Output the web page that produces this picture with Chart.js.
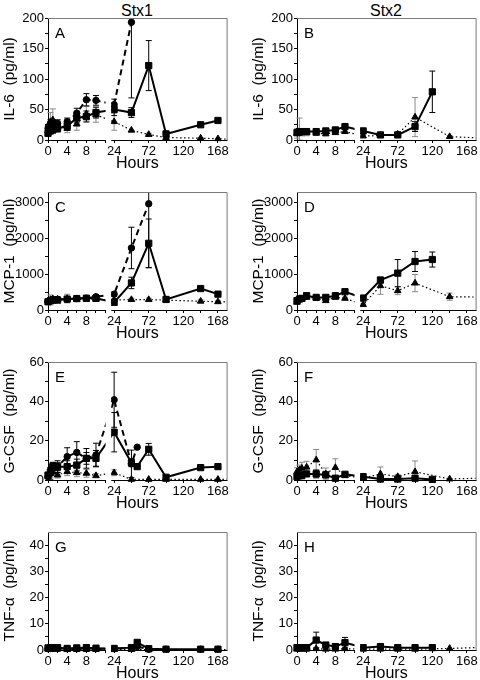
<!DOCTYPE html>
<html><head><meta charset="utf-8">
<script src="https://cdn.jsdelivr.net/npm/chart.js@4/dist/chart.umd.min.js"></script>
<style>
html,body{margin:0;padding:0;background:#fff;width:480px;height:680px;overflow:hidden;position:relative;font-family:"Liberation Sans",Arial,sans-serif;}
canvas{position:absolute;}
.ct{position:absolute;top:3px;width:100px;text-align:center;font-size:16px;line-height:16px;color:#000;}
</style></head><body>
<div class="ct" style="left:87px">Stx1</div>
<div class="ct" style="left:336px">Stx2</div>
<script>
// ---- time points (hours) ----
const hours = [0, 0.5, 1, 2, 4, 6, 8, 10, 24, 48, 56, 72, 96, 120, 144, 168, 192];
const xTicks = [0, 2, 4, 6, 8, 10, 12, 24, 48, 72, 96, 120, 144, 168];
const xLabels = [0, 4, 8, 24, 72, 120, 168];

// ---- y ticks ----
const il6Ticks = [0, 25, 50, 75, 100, 125, 150, 175, 200];
const il6Labels = [0, 50, 100, 150, 200];
const mcpTicks = [0, 500, 1000, 1500, 2000, 2500, 3000];
const mcpLabels = [0, 1000, 2000, 3000];
const gcsfTicks = [0, 10, 20, 30, 40, 50, 60];
const gcsfLabels = [0, 20, 40, 60];
const tnfTicks = [0, 5, 10, 15, 20, 25, 30, 35, 40];
const tnfLabels = [0, 10, 20, 30, 40];

// ---- Panel A (Stx1, IL-6) ----
const aSquare      = [11, 15, 16.5, 19, 23, 36, 38.5, 45, 50, 45, null, 122, 10, null, 25, 32, null];
const aSquareErr   = [4, 5, 5, 6, 7, 8, 9, 9, 10, 8, null, 41, 3, null, 3, 3, null];
const aCircle      = [19, 27, 27, 27, 30, 44, 66, 65, 58, 193, null, null, null, null, null, null, null];
const aCircleErr   = [5, 6, 6, 6, 6, 8, 10, 8, 9, 124, null, null, null, null, null, null, null];
const aTriangle    = [15, 30, 33, 25, 19, 26, 43, 41, 30, 16, null, 9, 4, null, 3, 2, 1];
const aTriangleErr = [8, 15, 18, 8, 7, 10, 12, 12, 14, null, null, 2, 1, null, 1, 1, null];
// ---- Panel B (Stx2, IL-6) ----
const bSquare      = [12, 13.8, 13.8, 13.8, 13.8, 14.9, 16.5, 22, 14.9, 8.3, null, 8.3, 22, 79, null, null, null];
const bSquareErr   = [4, 5, 4, 4, 3, 3, 3, 4, 4, 2, null, 2, 8, 34, null, null, null];
const bTriangle    = [11, 11, 12.7, 12, 11, 10, 12, 13.8, 6.6, 7.2, null, 9.4, 37.5, null, 5.5, null, 3];
const bTriangleErr = [8, 25, 6, 5, 3, 3, 3, 3, 3, 2, null, 3, 32, null, 2, null, null];
// ---- Panel C (Stx1, MCP-1) ----
const cSquare      = [230, 258, 277, 277, 305, 320, 330, 330, 212, 757, null, 1865, 295, null, 600, 443, null];
const cSquareErr   = [30, 40, 40, 40, 40, 30, 30, 30, 30, 160, null, 680, 30, null, 40, 40, null];
const cCircle      = [240, 270, 290, 300, 300, 320, 330, 370, 443, 1735, null, 2972, null, null, null, null, null];
const cCircleErr   = [40, 60, 60, 60, 60, 40, 40, 40, 60, 580, null, 1790, null, null, null, null, null];
const cTriangle    = [250, 280, 310, 300, 320, 290, 300, 300, 280, 290, null, 290, 275, null, 245, 230, 225];
const cTriangleErr = [40, 140, 60, 50, 120, 40, 40, 40, 40, 40, null, 40, 30, null, 40, 30, null];
// ---- Panel D (Stx2, MCP-1) ----
const dSquare      = [260, 307, 325, 400, 353, 353, 400, 511, 334, 836, null, 1031, 1356, 1412, null, null, null];
const dSquareErr   = [30, 40, 40, 60, 50, 50, 50, 40, 30, 80, null, 380, 280, 210, null, null, null];
const dTriangle    = [214, 290, 300, 353, 334, 260, 353, 325, 149, 678, null, 539, 752, null, 372, null, 360];
const dTriangleErr = [30, 40, 40, 40, 40, 40, 40, 30, 20, 240, null, 110, 240, null, 100, null, null];
// ---- Panel E (Stx1, G-CSF) ----
const eSquare      = [2.5, 4.2, 6.8, 6.8, 6.8, 7.6, 11, 11, 24.3, 8.8, 6.8, 15.6, 1.4, null, 6.3, 6.8, null];
const eSquareErr   = [1, 2, 2, 2, 3, 3, 3, 4, 10, 2, 0.5, 3, 0.5, null, 0.5, 0.5, null];
const eCircle      = [1.7, 3.4, 6, 6.8, 11.9, 14, 11, 12.7, 40.8, 8.2, 16.7, null, null, null, null, null, null];
const eCircleErr   = [1, 3, 3, 3, 4.5, 5.5, 5, 6, 14, 7, null, null, null, null, null, null, null];
const eTriangle    = [1.7, 3.4, 4.2, 2.5, 4.2, 3.7, 3.4, 2.2, 3.7, 0.3, null, 0.3, 0.3, null, 0.3, 0.3, 0.3];
const eTriangleErr = [1, 2, 2, 1.5, 2, 2, 2, 1, 1.5, null, null, null, null, null, null, null, null];
// ---- Panel F (Stx2, G-CSF) ----
const fSquare      = [1.7, 2.2, 2.2, 3.1, 3.1, 2.6, 0.9, 2.9, 1.7, 0.5, null, 0.5, 0.9, 0.3, null, null, null];
const fSquareErr   = [1, 1, 1, 1, 2, 1.5, 0.5, 1, 0.8, 0.3, null, 0.3, 0.5, 0.2, null, null, null];
const fTriangle    = [4.2, 5.1, 6, 6.5, 10.2, 3.1, 6.3, 2.2, 0.9, 3.1, null, 1.7, 4.2, null, 0.5, null, 1];
const fTriangleErr = [2, 2.5, 3, 3, 5.3, 3, 4.5, 1, 0.5, 3.5, null, 1, 5.5, null, 0.3, null, null];
// ---- Panel G (Stx1, TNF-a) ----
const gSquare      = [0.8, 0.9, 0.9, 0.9, 0.6, 0.8, 0.9, 0.7, 0.6, 0.9, 2.9, 0.5, 0.3, null, 0.3, 0.3, null];
const gSquareErr   = [0.3, 0.3, 0.3, 0.3, 0.3, 0.3, 0.3, 0.3, 0.3, 0.3, 0.5, 0.2, null, null, null, null, null];
const gCircle      = [0.5, 0.6, 0.6, 0.6, 0.5, 0.5, 0.6, 0.5, 0.5, 0.8, 1.3, 0.3, null, null, null, null, null];
const gCircleErr   = [0.2, 0.2, 0.2, 0.2, 0.2, 0.2, 0.2, 0.2, 0.2, 0.2, null, null, null, null, null, null, null];
const gTriangle    = [0.3, 0.3, 0.3, 0.3, 0.2, 0.2, 0.2, 0.2, 0.2, 0.2, null, 0.2, 0.2, null, 0.2, 0.2, 0.2];
const gTriangleErr = [null, null, null, null, null, null, null, null, null, null, null, null, null, null, null, null, null];
// ---- Panel H (Stx2, TNF-a) ----
const hSquare      = [0.9, 0.9, 0.9, 0.9, 3.8, 1.9, 1.3, 2.8, 0.9, 1.3, null, 0.9, 0.9, 0.9, null, null, null];
const hSquareErr   = [0.3, 0.3, 0.3, 0.3, 3, 0.8, 0.5, 2, 0.3, 0.4, null, 0.3, 0.3, 0.3, null, null, null];
const hTriangle    = [0.3, 0.3, 0.3, 0.3, 0.5, 0.3, 0.3, 0.5, 0.3, 0.3, null, 0.3, 0.3, null, 0.6, null, 1];
const hTriangleErr = [null, null, null, null, 0.5, null, null, 0.5, null, null, null, null, null, null, null, null, null];

// ---- broken x axis layout (fractions of plot width) ----
const BREAK = {leftMax: 12, rightMin: 20, leftFrac: 0.3223, gapFrac: 0.0318};
const FONT = '"Liberation Sans", Arial, sans-serif';

const LinearScale = Chart.registry.getScale('linear');
class BrokenScale extends LinearScale {
  getPixelForValue(value) {
    if (value === null || value === undefined || isNaN(value)) return NaN;
    const L = this.left, W = this.width, b = BREAK;
    const rf = 1 - b.leftFrac - b.gapFrac;
    if (value <= b.leftMax) return L + (value - this.min) / (b.leftMax - this.min) * b.leftFrac * W;
    if (value >= b.rightMin) return L + (b.leftFrac + b.gapFrac) * W + (value - b.rightMin) / (this.max - b.rightMin) * rf * W;
    return L + b.leftFrac * W + (value - b.leftMax) / (b.rightMin - b.leftMax) * b.gapFrac * W;
  }
  getValueForPixel(pixel) {
    const L = this.left, W = this.width, b = BREAK;
    const d = (pixel - L) / W;
    const rf = 1 - b.leftFrac - b.gapFrac;
    if (d <= b.leftFrac) return this.min + d / b.leftFrac * (b.leftMax - this.min);
    if (d >= b.leftFrac + b.gapFrac) return b.rightMin + (d - b.leftFrac - b.gapFrac) / rf * (this.max - b.rightMin);
    return b.leftMax + (d - b.leftFrac) / b.gapFrac * (b.rightMin - b.leftMax);
  }
}
BrokenScale.id = 'broken';
BrokenScale.defaults = {};
Chart.register(BrokenScale);

const STYLE = {
  square:   {pointStyle: 'rect', pointRadius: 4.4, borderWidth: 2, borderDash: [], errColor: '#000'},
  circle:   {pointStyle: 'circle', pointRadius: 3.2, borderWidth: 2, borderDash: [6, 4], errColor: '#000'},
  triangle: {pointStyle: 'triangle', pointRadius: 3.8, borderWidth: 1.2, borderDash: [1.5, 2.5], errColor: '#8a8a8a'}
};

function makeDataset(vals, errs, kind) {
  const s = STYLE[kind];
  const data = [];
  hours.forEach((h, i) => {
    if (vals[i] !== null && vals[i] !== undefined) data.push({x: h, y: vals[i], e: errs[i] || 0});
  });
  return {
    data, borderColor: '#000', backgroundColor: '#000',
    pointBackgroundColor: '#000', pointBorderColor: '#000', pointBorderWidth: 1,
    borderWidth: s.borderWidth, borderDash: s.borderDash,
    pointStyle: s.pointStyle, pointRadius: s.pointRadius, pointHoverRadius: s.pointRadius,
    tension: 0, clip: false, fill: false, spanGaps: true, errColor: s.errColor
  };
}

const decoPlugin = {
  id: 'deco',
  beforeDatasetsDraw(chart) {
    const {ctx, chartArea: a} = chart;
    const x = chart.scales.x, y = chart.scales.y;
    const gL = x.getPixelForValue(BREAK.leftMax), gR = x.getPixelForValue(BREAK.rightMin);
    ctx.save();
    ctx.beginPath();
    ctx.rect(a.left - 8, a.top, gL - a.left + 8, a.bottom - a.top + 8);
    ctx.rect(gR, a.top, a.right - gR, a.bottom - a.top + 8);
    ctx.clip();
    chart.data.datasets.forEach((d, di) => {
      const meta = chart.getDatasetMeta(di);
      ctx.strokeStyle = d.errColor; ctx.lineWidth = 1; ctx.setLineDash([]);
      d.data.forEach((p, i) => {
        if (!p.e) return;
        const px = meta.data[i].x;
        const y1 = y.getPixelForValue(p.y + p.e);
        const y2 = y.getPixelForValue(Math.max(p.y - p.e, 0));
        ctx.beginPath();
        ctx.moveTo(px, y1); ctx.lineTo(px, y2);
        ctx.moveTo(px - 3, y1); ctx.lineTo(px + 3, y1);
        ctx.moveTo(px - 3, y2); ctx.lineTo(px + 3, y2);
        ctx.stroke();
      });
    });
  },
  afterDatasetsDraw(chart, args, opts) {
    const {ctx, chartArea: a} = chart;
    ctx.restore();
    const x = chart.scales.x;
    const gL = x.getPixelForValue(BREAK.leftMax), gR = x.getPixelForValue(BREAK.rightMin);
    ctx.save();
    ctx.setLineDash([]);
    ctx.strokeStyle = '#7a7a7a'; ctx.lineWidth = 1;
    ctx.beginPath();
    ctx.moveTo(a.left, a.top + 0.5); ctx.lineTo(a.right + 0.5, a.top + 0.5); ctx.lineTo(a.right + 0.5, a.bottom);
    ctx.stroke();
    ctx.strokeStyle = '#000';
    ctx.beginPath();
    ctx.moveTo(a.left - 0.5, a.bottom + 0.5); ctx.lineTo(gL, a.bottom + 0.5);
    ctx.moveTo(gR, a.bottom + 0.5); ctx.lineTo(a.right + 1, a.bottom + 0.5);
    ctx.stroke();
    ctx.fillStyle = '#000';
    ctx.font = '15px ' + FONT;
    ctx.textAlign = 'left'; ctx.textBaseline = 'alphabetic';
    ctx.fillText(opts.letter, a.left + 7, a.top + 19.5);
    ctx.font = '16px ' + FONT;
    ctx.textAlign = 'center';
    ctx.fillText('Hours', (a.left + a.right) / 2, a.bottom + 28);
    ctx.restore();
  }
};

const ROWS = [
  {top: 0, h: 172, padTop: 18, padBottom: 10},
  {top: 172, h: 170, padTop: 20, padBottom: 10},
  {top: 342, h: 170, padTop: 20, padBottom: 10},
  {top: 512, h: 168, padTop: 20, padBottom: 8}
];
const COLS = [0, 249];
const CW = 232;

const panels = [
  {letter: 'A', col: 0, row: 0, yTitle: 'IL-6  (pg/ml)', yMax: 200, yTicks: il6Ticks, yLabels: il6Labels,
   series: [[aTriangle, aTriangleErr, 'triangle'], [aCircle, aCircleErr, 'circle'], [aSquare, aSquareErr, 'square']]},
  {letter: 'B', col: 1, row: 0, yTitle: 'IL-6  (pg/ml)', yMax: 200, yTicks: il6Ticks, yLabels: il6Labels,
   series: [[bTriangle, bTriangleErr, 'triangle'], [bSquare, bSquareErr, 'square']]},
  {letter: 'C', col: 0, row: 1, yTitle: 'MCP-1  (pg/ml)', yMax: 3300, yTicks: mcpTicks, yLabels: mcpLabels,
   series: [[cTriangle, cTriangleErr, 'triangle'], [cCircle, cCircleErr, 'circle'], [cSquare, cSquareErr, 'square']]},
  {letter: 'D', col: 1, row: 1, yTitle: 'MCP-1  (pg/ml)', yMax: 3300, yTicks: mcpTicks, yLabels: mcpLabels,
   series: [[dTriangle, dTriangleErr, 'triangle'], [dSquare, dSquareErr, 'square']]},
  {letter: 'E', col: 0, row: 2, yTitle: 'G-CSF  (pg/ml)', yMax: 60, yTicks: gcsfTicks, yLabels: gcsfLabels,
   series: [[eTriangle, eTriangleErr, 'triangle'], [eCircle, eCircleErr, 'circle'], [eSquare, eSquareErr, 'square']]},
  {letter: 'F', col: 1, row: 2, yTitle: 'G-CSF  (pg/ml)', yMax: 60, yTicks: gcsfTicks, yLabels: gcsfLabels,
   series: [[fTriangle, fTriangleErr, 'triangle'], [fSquare, fSquareErr, 'square']]},
  {letter: 'G', col: 0, row: 3, yTitle: 'TNF-\u03b1  (pg/ml)', yMax: 45, yTicks: tnfTicks, yLabels: tnfLabels,
   series: [[gTriangle, gTriangleErr, 'triangle'], [gCircle, gCircleErr, 'circle'], [gSquare, gSquareErr, 'square']]},
  {letter: 'H', col: 1, row: 3, yTitle: 'TNF-\u03b1  (pg/ml)', yMax: 45, yTicks: tnfTicks, yLabels: tnfLabels,
   series: [[hTriangle, hTriangleErr, 'triangle'], [hSquare, hSquareErr, 'square']]}
];

panels.forEach(p => {
  const r = ROWS[p.row];
  const cv = document.createElement('canvas');
  cv.width = CW; cv.height = r.h;
  cv.style.left = COLS[p.col] + 'px'; cv.style.top = r.top + 'px';
  cv.style.width = CW + 'px'; cv.style.height = r.h + 'px';
  document.body.appendChild(cv);
  new Chart(cv.getContext('2d'), {
    type: 'line',
    data: {datasets: p.series.map(s => makeDataset(s[0], s[1], s[2]))},
    plugins: [decoPlugin],
    options: {
      responsive: false, animation: false, devicePixelRatio: 1, events: [],
      layout: {padding: {left: 0, right: 5, top: r.padTop, bottom: r.padBottom}},
      plugins: {legend: {display: false}, tooltip: {enabled: false}, deco: {letter: p.letter}},
      scales: {
        x: {
          type: 'broken', position: 'bottom', min: 0, max: 180,
          afterBuildTicks: s => { s.ticks = xTicks.map(v => ({value: v})); },
          afterFit: s => { s.height = 22; s.paddingLeft = 0; s.paddingRight = 0; },
          border: {display: false},
          grid: {display: true, drawOnChartArea: false, drawTicks: true, tickLength: 3, color: '#000', tickColor: '#000'},
          ticks: {autoSkip: false, maxRotation: 0, minRotation: 0, padding: 1, color: '#000',
                  font: {family: FONT, size: 13},
                  callback: v => xLabels.includes(v) ? String(v) : ''}
        },
        y: {
          type: 'linear', position: 'left', min: 0, max: p.yMax,
          afterBuildTicks: s => { s.ticks = p.yTicks.map(v => ({value: v})); },
          afterFit: s => { s.width = 48; s.paddingTop = 0; s.paddingBottom = 0; },
          border: {display: true, color: '#000', width: 1},
          grid: {display: true, drawOnChartArea: false, drawTicks: true, tickLength: 3, color: '#000', tickColor: '#000'},
          ticks: {autoSkip: false, padding: 1, color: '#000', font: {family: FONT, size: 13},
                  callback: v => p.yLabels.includes(v) ? String(v) : ''},
          title: {display: true, text: p.yTitle, color: '#000', padding: 0, font: {family: FONT, size: 15.5}}
        }
      }
    }
  });
});
</script>
</body></html>
